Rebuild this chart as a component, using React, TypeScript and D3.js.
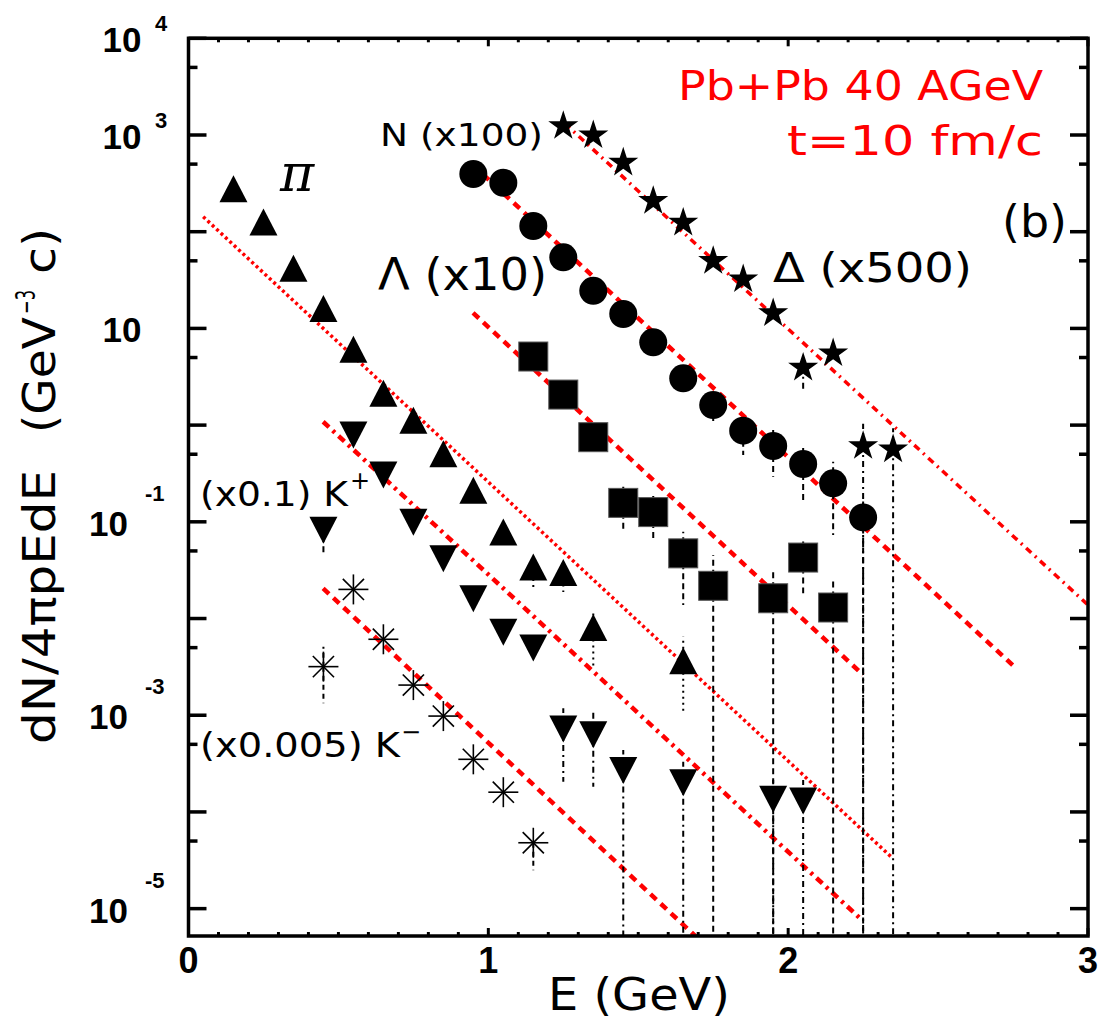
import React from "react";
import * as d3 from "d3";

// ---------- data ----------
const piE = [0.15, 0.25, 0.35, 0.45, 0.55, 0.65, 0.75, 0.85, 0.95, 1.05, 1.15, 1.25, 1.35, 1.65];
const piV = [278, 126, 41.9, 16.1, 6.1, 2.13, 1.12, 0.506, 0.212, 0.0785, 0.0341, 0.0299, 0.00807, 0.00366];
const piLo = [null, null, null, null, null, null, null, null, null, null, 0.0206, 0.0188, 0.00318, 0.00109];
const piHi = [null, null, null, null, null, null, null, null, null, null, null, null, 0.0123, 0.0065];

const kpE = [0.45, 0.55, 0.65, 0.75, 0.85, 0.95, 1.05, 1.15, 1.25, 1.35, 1.45, 1.65, 1.95, 2.05];
const kpV = [0.0817, 0.79, 0.305, 0.099, 0.0415, 0.016, 0.0072, 0.00495, 7.2e-4, 6.3e-4, 2.68e-4, 2.0e-4, 1.35e-4, 1.3e-4];
const kpLo = [0.0454, null, null, null, null, null, null, null, 2.05e-4, 1.82e-4, 0, 0, 0, 0];
const kpHi = [null, null, null, null, null, null, null, null, 1.18e-3, 1.06e-3, 4.36e-4, 3.3e-4, 2.14e-4, 2.14e-4];

const kmE = [0.45, 0.55, 0.65, 0.75, 0.85, 0.95, 1.05, 1.15];
const kmV = [3.18e-3, 0.02, 6.1e-3, 2.05e-3, 9.8e-4, 3.5e-4, 1.6e-4, 4.8e-5];
const kmLo = [1.33e-3, null, null, null, null, null, null, 2.5e-5];
const kmHi = [5.1e-3, null, null, null, null, null, null, null];

const laE = [1.15, 1.25, 1.35, 1.45, 1.55, 1.65, 1.75, 1.95, 2.05, 2.15];
const laV = [5.12, 2.07, 0.75, 0.157, 0.126, 0.0472, 0.0218, 0.0162, 0.0427, 0.013];
const laLo = [null, null, null, 0.079, 0.0622, 0.0138, 0, 0, 0.0182, 0];
const laHi = [null, null, null, 0.234, 0.189, 0.079, 0.0454, 0.0318, 0.0674, 0.026];

const nE = [0.95, 1.05, 1.15, 1.25, 1.35, 1.45, 1.55, 1.65, 1.75, 1.85, 1.95, 2.05, 2.15, 2.25];
const nV = [395, 321, 114.6, 54.3, 24.5, 14.1, 7.18, 3.05, 1.61, 0.875, 0.608, 0.396, 0.25, 0.111];
const nLo = [null, null, null, null, null, null, null, null, 1.05, 0.49, 0.292, 0.168, 0.073, 0];
const nHi = [null, null, null, null, null, null, null, null, null, null, 0.91, 0.622, 0.419, 0.18];

const dE = [1.25, 1.35, 1.45, 1.55, 1.65, 1.75, 1.85, 1.95, 2.05, 2.15, 2.25, 2.35];
const dV = [1268, 1016, 530, 213, 127, 51, 33, 14.7, 4.02, 5.66, 0.622, 0.575];
const dLo = [null, null, null, null, null, null, null, null, 2.2, null, 0, 0];
const dHi = [null, null, null, null, null, null, null, null, null, null, 1.03, 0.93];

// thermal fit lines: [E start, value start, E end, value end]
const fitPi = [0.049, 142.9, 2.348, 3.33e-5];
const fitN = [0.948, 490, 2.755, 3.16e-3];
const fitDelta = [1.255, 1318, 3.0, 0.0138];
const fitLambda = [0.949, 14.5, 2.25, 2.61e-3];
const fitKp = [0.449, 1.084, 2.246, 7.62e-6];
const fitKm = [0.449, 0.0205, 1.75, 3.5e-6];

const yLabelExps = [4, 3, 1, -1, -3, -5];
const xLabels = [0, 1, 2, 3];

// ---------- layout ----------
const W = 1101, H = 1026;
const PL = 188.5, PR = 1088, PT = 38.3, PB = 936;
const x = d3.scaleLinear().domain([0, 3]).range([PL, PR]);
const y = d3.scaleLog().domain([Math.pow(10, -5.283), 1e4]).range([PB, PT]);

const RED = "#ff0000";
const TXT = "DejaVu Sans, sans-serif";
const BOLD = "Liberation Sans, Arial, sans-serif";

function marker(shape: string, cx: number, cy: number, key: string) {
  if (shape === "triUp") {
    const w = 14, h = 13.5;
    return <path key={key} d={`M${cx},${cy - h}L${cx + w},${cy + h}L${cx - w},${cy + h}Z`} fill="#000" />;
  }
  if (shape === "triDown") {
    const w = 14, h = 13.5;
    return <path key={key} d={`M${cx - w},${cy - h}L${cx + w},${cy - h}L${cx},${cy + h}Z`} fill="#000" />;
  }
  if (shape === "square") {
    return <rect key={key} x={cx - 14.5} y={cy - 14.5} width={29} height={29} fill="#000" stroke="#555" strokeWidth={1} />;
  }
  if (shape === "circle") {
    return <circle key={key} cx={cx} cy={cy} r={14} fill="#000" />;
  }
  if (shape === "star") {
    const sym = d3.symbol().type(d3.symbolStar).size(280)();
    return <path key={key} d={sym || ""} transform={`translate(${cx},${cy + 1})`} fill="#000" />;
  }
  // asterisk
  const r = 15, q = 10.6;
  return (
    <g key={key} stroke="#000" strokeWidth={1.6}>
      <line x1={cx} y1={cy - r} x2={cx} y2={cy + r} />
      <line x1={cx - r} y1={cy} x2={cx + r} y2={cy} />
      <line x1={cx - q} y1={cy - q} x2={cx + q} y2={cy + q} />
      <line x1={cx - q} y1={cy + q} x2={cx + q} y2={cy - q} />
    </g>
  );
}

const series = [
  { E: piE, V: piV, lo: piLo, hi: piHi, shape: "triUp", dash: "2 4" },
  { E: kpE, V: kpV, lo: kpLo, hi: kpHi, shape: "triDown", dash: "6 4 2 4" },
  { E: kmE, V: kmV, lo: kmLo, hi: kmHi, shape: "asterisk", dash: "5 4" },
  { E: laE, V: laV, lo: laLo, hi: laHi, shape: "square", dash: "6 4" },
  { E: nE, V: nV, lo: nLo, hi: nHi, shape: "circle", dash: "6 4" },
  { E: dE, V: dV, lo: dLo, hi: dHi, shape: "star", dash: "6 4 2 4" },
];

const fits = [
  { f: fitPi, dash: "3 3", w: 3.5 },
  { f: fitN, dash: "8 6", w: 4.5 },
  { f: fitDelta, dash: "7 5 2 5", w: 3.5 },
  { f: fitLambda, dash: "8 6", w: 4.5 },
  { f: fitKp, dash: "8 5 3 5", w: 4.5 },
  { f: fitKm, dash: "8 6", w: 4.5 },
];

export default function App() {
  const yv = (v: number) => (v === 0 ? PB : y(v));

  const minorX = d3.range(0, 31).map((i) => i / 10);
  const majorY = d3.range(-5, 5).map((e) => Math.pow(10, e));
  const minorY = d3.range(-5, 4).map((e) => 5 * Math.pow(10, e));

  return (
    <svg width={W} height={H} style={{ display: "block", position: "absolute", left: 0, top: 0, background: "#fff" }}>
      <defs>
        <clipPath id="plot">
          <rect x={PL} y={PT} width={PR - PL} height={PB - PT} />
        </clipPath>
      </defs>
      <rect x={0} y={0} width={W} height={H} fill="#fff" />

      {/* fit lines */}
      <g clipPath="url(#plot)">
        {fits.map((d, i) => (
          <line
            key={"fit" + i}
            x1={x(d.f[0])}
            y1={y(d.f[1])}
            x2={x(d.f[2])}
            y2={y(d.f[3])}
            stroke={RED}
            strokeWidth={d.w}
            strokeDasharray={d.dash}
          />
        ))}
      </g>

      {/* error bars */}
      <g clipPath="url(#plot)">
        {series.map((s, si) =>
          s.E.map((e, i) => {
            const out = [];
            const cx = x(e);
            const cy = y(s.V[i]);
            if (s.lo[i] !== null) {
              out.push(
                <line key={`lo${si}-${i}`} x1={cx} x2={cx} y1={cy} y2={yv(s.lo[i] as number)} stroke="#000" strokeWidth={2} strokeDasharray={s.dash} />
              );
            }
            if (s.hi[i] !== null) {
              out.push(
                <line key={`hi${si}-${i}`} x1={cx} x2={cx} y1={cy} y2={yv(s.hi[i] as number)} stroke="#000" strokeWidth={2} strokeDasharray={s.dash} />
              );
            }
            return out;
          })
        )}
      </g>

      {/* markers */}
      <g>
        {series.map((s, si) => s.E.map((e, i) => marker(s.shape, x(e), y(s.V[i]), `m${si}-${i}`)))}
      </g>

      {/* frame */}
      <rect x={PL} y={PT} width={PR - PL} height={PB - PT} fill="none" stroke="#000" strokeWidth={3.5} />

      {/* x ticks */}
      {minorX.map((t, i) => {
        const major = Math.abs(t - Math.round(t)) < 1e-6;
        const len = major ? 8 : 4;
        return (
          <g key={"xt" + i} stroke="#000" strokeWidth={3}>
            <line x1={x(t)} x2={x(t)} y1={PB} y2={PB - len} />
            <line x1={x(t)} x2={x(t)} y1={PT} y2={PT + len} />
          </g>
        );
      })}
      {/* y ticks */}
      {majorY.map((v, i) => (
        <g key={"yM" + i} stroke="#000" strokeWidth={3.5}>
          <line x1={PL} x2={PL + 18} y1={y(v)} y2={y(v)} />
          <line x1={PR} x2={PR - 18} y1={y(v)} y2={y(v)} />
        </g>
      ))}
      {minorY.map((v, i) => (
        <g key={"ym" + i} stroke="#000" strokeWidth={3.5}>
          <line x1={PL} x2={PL + 9} y1={y(v)} y2={y(v)} />
          <line x1={PR} x2={PR - 9} y1={y(v)} y2={y(v)} />
        </g>
      ))}

      {/* x tick labels */}
      {xLabels.map((t) => (
        <text key={"xl" + t} x={x(t)} y={973} textAnchor="middle" fontFamily={BOLD} fontWeight="bold" fontSize={36} fill="#000">
          {t}
        </text>
      ))}

      {/* y tick labels */}
      {yLabelExps.map((e) => {
        const ty = y(Math.pow(10, e));
        const neg = e < 0;
        return (
          <g key={"yl" + e} fontFamily={BOLD} fontWeight="bold" fill="#000">
            <text x={neg ? 128 : 141.5} y={ty + 14} textAnchor="end" fontSize={35}>10</text>
            {e !== 1 && (
              <text x={neg ? 145 : 155} y={neg ? ty - 21 : ty - 7} textAnchor="start" fontSize={22}>
                {neg ? "-" + Math.abs(e) : String(e)}
              </text>
            )}
          </g>
        );
      })}

      {/* axis titles */}
      <text x={548} y={1010} fontFamily={TXT} fontSize={44} textLength={182} lengthAdjust="spacingAndGlyphs" fill="#000">
        E (GeV)
      </text>
      <g transform="translate(55,744) rotate(-90)" fontFamily={TXT} fontSize={44} fill="#000">
        <text x={0} y={0} textLength={274} lengthAdjust="spacingAndGlyphs">dN/4πpEdE</text>
        <text x={311} y={0} textLength={116} lengthAdjust="spacingAndGlyphs">(GeV</text>
        <text x={430} y={-20} fontSize={26} textLength={24} lengthAdjust="spacingAndGlyphs">−3</text>
        <text x={470} y={0} textLength={46} lengthAdjust="spacingAndGlyphs">c)</text>
      </g>

      {/* annotations */}
      <text x={1043} y={100} textAnchor="end" fontFamily={TXT} fontSize={40} fill={RED} textLength={365} lengthAdjust="spacingAndGlyphs">
        Pb+Pb 40 AGeV
      </text>
      <text x={1043} y={155} textAnchor="end" fontFamily={TXT} fontSize={40} fill={RED} textLength={256} lengthAdjust="spacingAndGlyphs">
        t=10 fm/c
      </text>
      <text x={1002} y={237} fontFamily={TXT} fontSize={44} fill="#000" textLength={65} lengthAdjust="spacingAndGlyphs">
        (b)
      </text>
      <text x={380} y={146} fontFamily={TXT} fontSize={32} fill="#000" textLength={163} lengthAdjust="spacingAndGlyphs">
        N (x100)
      </text>
      <text x={378} y={290} fontFamily={TXT} fontSize={44} fill="#000" textLength={169} lengthAdjust="spacingAndGlyphs">
        Λ (x10)
      </text>
      <text x={773} y={282} fontFamily={TXT} fontSize={40} fill="#000" textLength={199} lengthAdjust="spacingAndGlyphs">
        Δ (x500)
      </text>
      <text x={280} y={191} fontFamily="DejaVu Serif, serif" fontStyle="italic" fontSize={52} fill="#000">
        π
      </text>
      <text x={200} y={506} fontFamily={TXT} fontSize={34} fill="#000" textLength={148} lengthAdjust="spacingAndGlyphs">
        (x0.1) K
      </text>
      <text x={350} y={489} fontFamily={TXT} fontSize={24} fill="#000">+</text>
      <text x={200} y={757} fontFamily={TXT} fontSize={34} fill="#000" textLength={200} lengthAdjust="spacingAndGlyphs">
        (x0.005) K
      </text>
      <text x={401} y={740} fontFamily={TXT} fontSize={24} fill="#000">−</text>
    </svg>
  );
}
